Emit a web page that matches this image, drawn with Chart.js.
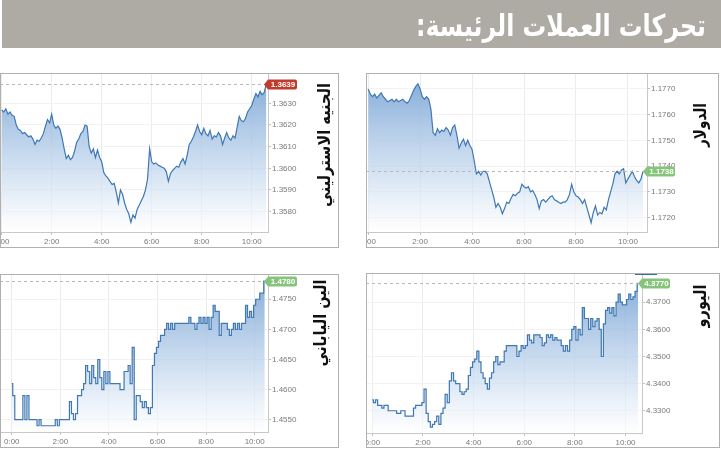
<!DOCTYPE html>
<html>
<head>
<meta charset="utf-8">
<script src="https://cdn.jsdelivr.net/npm/chart.js@4.4.1/dist/chart.umd.min.js"></script>
<style>
  body { margin:0; width:721px; height:450px; background:#fff; position:relative; overflow:hidden; }
  canvas { position:absolute; display:block; }
</style>
</head>
<body>
<canvas id="title" width="721" height="48" style="left:0;top:0"></canvas>
<canvas id="gbp-chart" width="339" height="175" style="left:0;top:73px"></canvas>
<canvas id="usd-chart" width="353" height="175" style="left:366px;top:73px"></canvas>
<canvas id="jpy-chart" width="339" height="174" style="left:0;top:274px"></canvas>
<canvas id="eur-chart" width="354" height="175" style="left:366px;top:273px"></canvas>
<script>
// quotes every 5 minutes from 0:00
var gbpValues = [
  1.3627,1.3626,1.36275,1.3625,1.3626,1.36245,1.3624,1.3620,1.3618,1.36175,
  1.3616,1.36165,1.36155,1.36145,1.3615,1.36135,1.3611,1.3613,1.36125,1.3614,
  1.3616,1.36195,1.36225,1.3621,1.3625,1.3620,1.36185,1.36195,1.3618,1.3614,
  1.3609,1.36045,1.3606,1.3604,1.3605,1.3608,1.3612,1.36135,1.3616,1.3617,
  1.3620,1.36195,1.3610,1.3607,1.3609,1.3605,1.36085,1.3605,1.3603,1.3598,
  1.35965,1.35955,1.3594,1.35925,1.3593,1.3589,1.3584,1.3590,1.3588,1.3584,
  1.3581,1.3579,1.3575,1.35785,1.3577,1.3581,1.3583,1.3585,1.3587,1.3590,
  1.3595,1.3609,1.3603,1.3602,1.36025,1.36015,1.3601,1.36005,1.3600,1.35985,
  1.3594,1.35975,1.3599,1.3600,1.3601,1.36005,1.3603,1.36045,1.3602,1.3606,
  1.3611,1.36125,1.36145,1.3617,1.3620,1.3617,1.36155,1.36185,1.3616,1.3615,
  1.36175,1.36135,1.3615,1.36145,1.36165,1.3615,1.3611,1.3614,1.36165,1.3614,
  1.3613,1.3615,1.3614,1.3619,1.3624,1.3622,1.36215,1.3623,1.3626,1.36275,
  1.3629,1.3632,1.36345,1.3633,1.36355,1.3634,1.3635,1.3639
];
var usdValues = [
  1.1770,1.1768,1.1767,1.1768,1.17665,1.17675,1.17685,1.1767,1.1766,1.1765,
  1.17655,1.1766,1.1765,1.1766,1.1765,1.17655,1.1766,1.1765,1.17645,1.17655,
  1.17675,1.17695,1.1771,1.1772,1.1770,1.1767,1.1766,1.1767,1.1766,1.1762,
  1.1753,1.1752,1.17545,1.1753,1.1754,1.17535,1.1755,1.1754,1.1752,1.1755,
  1.1756,1.1752,1.1747,1.1749,1.17505,1.1748,1.1750,1.1748,1.17465,1.1742,
  1.1737,1.1738,1.17365,1.1738,1.1738,1.1737,1.1734,1.1731,1.1728,1.1724,
  1.17255,1.1724,1.17215,1.17235,1.1726,1.17255,1.17275,1.1729,1.17285,1.17295,
  1.1730,1.1733,1.1732,1.17315,1.1732,1.1730,1.17305,1.1729,1.1727,1.17235,
  1.17265,1.1727,1.1726,1.1727,1.1728,1.17285,1.1727,1.17265,1.1726,1.17255,
  1.1726,1.1726,1.1727,1.1729,1.1733,1.1730,1.17285,1.1728,1.1727,1.17255,
  1.1727,1.1724,1.1721,1.1718,1.1722,1.17245,1.1721,1.1722,1.17215,1.1724,
  1.1723,1.1727,1.1730,1.1733,1.1737,1.1738,1.1737,1.17385,1.1739,1.17335,
  1.1735,1.17365,1.1738,1.1736,1.17345,1.17335,1.1735,1.1738
];
var jpyValues = [
  1.4610,1.4590,1.4550,1.4550,1.4550,1.4550,1.4590,1.4550,1.4590,1.4550,
  1.4550,1.4550,1.4550,1.4540,1.4550,1.4540,1.4540,1.4540,1.4540,1.4540,
  1.4540,1.4540,1.4550,1.4540,1.4550,1.4550,1.4550,1.4550,1.4550,1.4580,
  1.4560,1.4550,1.4560,1.4590,1.4590,1.4600,1.4610,1.4640,1.4630,1.4610,
  1.4640,1.4620,1.4610,1.4650,1.4620,1.4600,1.4630,1.4610,1.4630,1.4610,
  1.4610,1.4610,1.4610,1.4610,1.4600,1.4600,1.4630,1.4630,1.4640,1.4610,
  1.4670,1.4550,1.4590,1.4590,1.4580,1.4570,1.4580,1.4570,1.4560,1.4570,
  1.4640,1.4660,1.4670,1.4680,1.4690,1.4690,1.4700,1.4710,1.4700,1.4710,
  1.4700,1.4710,1.4710,1.4710,1.4710,1.4710,1.4710,1.4710,1.4720,1.4710,
  1.4710,1.4700,1.4710,1.4720,1.4710,1.4720,1.4710,1.4720,1.4700,1.4720,
  1.4740,1.4730,1.4730,1.4690,1.4710,1.4710,1.4710,1.4700,1.4690,1.4700,
  1.4710,1.4700,1.4710,1.4700,1.4710,1.4710,1.4740,1.4720,1.4730,1.4720,
  1.4740,1.4750,1.4750,1.4760,1.4760,1.4780
];
var eurValues = [
  4.3340,4.3330,4.3340,4.3320,4.3320,4.3310,4.3320,4.3320,4.3300,4.3300,
  4.3300,4.3300,4.3290,4.3290,4.3300,4.3300,4.3280,4.3280,4.3280,4.3280,
  4.3310,4.3320,4.3320,4.3320,4.3330,4.3380,4.3290,4.3260,4.3240,4.3250,
  4.3260,4.3280,4.3250,4.3290,4.3310,4.3360,4.3330,4.3410,4.3440,4.3410,
  4.3400,4.3400,4.3370,4.3360,4.3370,4.3380,4.3430,4.3460,4.3480,4.3490,
  4.3520,4.3480,4.3440,4.3420,4.3400,4.3380,4.3420,4.3440,4.3480,4.3500,
  4.3470,4.3480,4.3480,4.3520,4.3540,4.3540,4.3540,4.3540,4.3540,4.3500,
  4.3520,4.3540,4.3530,4.3540,4.3580,4.3560,4.3550,4.3580,4.3580,4.3580,
  4.3570,4.3540,4.3550,4.3580,4.3570,4.3580,4.3560,4.3570,4.3560,4.3560,
  4.3540,4.3520,4.3540,4.3520,4.3560,4.3600,4.3610,4.3560,4.3600,4.3580,
  4.3680,4.3640,4.3640,4.3600,4.3640,4.3610,4.3630,4.3640,4.3600,4.3500,
  4.3620,4.3670,4.3680,4.3660,4.3680,4.3650,4.3700,4.3730,4.3700,4.3690,
  4.3690,4.3710,4.3730,4.3710,4.3720,4.3740,4.3770
];

var xTicks = [0, 120, 240, 360, 480, 600];
var xTickLabels = ['0:00', '2:00', '4:00', '6:00', '8:00', '10:00'];
var gbpTicks = [1.3580, 1.3590, 1.3600, 1.3610, 1.3620, 1.3630];
var usdTicks = [1.1720, 1.1730, 1.1740, 1.1750, 1.1760, 1.1770];
var jpyTicks = [1.4550, 1.4600, 1.4650, 1.4700, 1.4750];
var eurTicks = [4.3300, 4.3400, 4.3500, 4.3600, 4.3700];

var titleText = 'تحركات العملات الرئيسة:';

// title bar
(function () {
  var c = document.getElementById('title').getContext('2d');
  c.fillStyle = '#aeaba4';
  c.fillRect(2, 0, 719, 48);
  c.direction = 'rtl';
  c.font = 'bold 30px "DejaVu Sans"';
  var w = c.measureText(titleText).width;
  c.save();
  c.translate(706, 36);
  c.scale(290 / w, 1);
  c.fillStyle = '#ffffff';
  c.textAlign = 'right';
  c.textBaseline = 'alphabetic';
  c.fillText(titleText, 0, 0);
  c.restore();
})();

var panelDeco = {
  id: 'panelDeco',
  afterDraw: function (chart, args, o) {
    var ctx = chart.ctx, area = chart.chartArea;
    var data = chart.data.datasets[0].data;
    var last = data[data.length - 1].y;
    var y = Math.round(chart.scales.y.getPixelForValue(last)) + 0.5;
    ctx.save();
    // dashed last-price line
    ctx.strokeStyle = '#b8b8b8';
    ctx.lineWidth = 1;
    ctx.setLineDash([3, 3]);
    ctx.beginPath();
    ctx.moveTo(area.left, y);
    ctx.lineTo(area.right, y);
    ctx.stroke();
    ctx.setLineDash([]);
    // price box
    var x0 = area.right - 4, x1 = area.right, x2 = area.right + o.boxW;
    ctx.fillStyle = o.boxColor;
    ctx.beginPath();
    ctx.moveTo(x0, y);
    ctx.lineTo(x1, y - 5);
    ctx.lineTo(x2 - 2, y - 5);
    ctx.quadraticCurveTo(x2, y - 5, x2, y - 3);
    ctx.lineTo(x2, y + 3);
    ctx.quadraticCurveTo(x2, y + 5, x2 - 2, y + 5);
    ctx.lineTo(x1, y + 5);
    ctx.closePath();
    ctx.fill();
    ctx.fillStyle = '#ffffff';
    ctx.font = 'bold 8px "Liberation Sans"';
    ctx.textAlign = 'center';
    ctx.textBaseline = 'middle';
    ctx.fillText(last.toFixed(4), (x1 + x2) / 2 + 0.5, y + 0.5);
    // small bar on top (navigator)
    if (o.topBar) {
      ctx.fillStyle = '#3b6a9c';
      ctx.fillRect(o.topBar[0], 0, o.topBar[1] - o.topBar[0], 2);
    }
    // panel border
    ctx.strokeStyle = '#b0b0b0';
    ctx.strokeRect(0.5, 0.5, chart.width - 1, chart.height - 1);
    // vertical currency name
    ctx.translate(o.labelX, o.labelY);
    ctx.rotate(-Math.PI / 2);
    ctx.direction = 'rtl';
    ctx.font = 'bold 17px "DejaVu Sans"';
    var w = ctx.measureText(o.label).width;
    ctx.scale(o.labelLen / w, 1);
    ctx.fillStyle = '#111111';
    ctx.textAlign = 'center';
    ctx.textBaseline = 'middle';
    ctx.fillText(o.label, 0, 0);
    ctx.restore();
  }
};

function fillGradient(context) {
  var chart = context.chart, area = chart.chartArea;
  if (!area) return 'rgba(140,180,220,0.5)';
  var g = chart.ctx.createLinearGradient(0, area.top, 0, area.bottom);
  g.addColorStop(0, 'rgba(112,157,210,0.9)');
  g.addColorStop(0.6, 'rgba(190,212,236,0.7)');
  g.addColorStop(1, 'rgba(255,255,255,0.6)');
  return g;
}

function makeChart(id, values, yTicks, cfg) {
  var times = values.map(function (v, i) { return i * 5; });
  var points = values.map(function (v, i) { return { x: times[i], y: v }; });
  return new Chart(document.getElementById(id), {
    type: 'line',
    data: {
      datasets: [{
        data: points,
        borderColor: '#3f78b3',
        borderWidth: 1.2,
        backgroundColor: fillGradient,
        fill: 'start',
        pointRadius: 0,
        tension: 0,
        stepped: cfg.stepped || false
      }]
    },
    plugins: [panelDeco],
    options: {
      responsive: false,
      animation: false,
      events: [],
      layout: { padding: 0 },
      plugins: {
        legend: { display: false },
        tooltip: { enabled: false },
        panelDeco: cfg.deco
      },
      scales: {
        x: {
          type: 'linear',
          min: cfg.xMin,
          max: cfg.xMax,
          afterBuildTicks: function (s) { s.ticks = xTicks.map(function (v) { return { value: v }; }); },
          afterFit: function (s) {
            s.height = cfg.xH;
            s.paddingLeft = 0; s.paddingRight = 0; s.paddingTop = 0; s.paddingBottom = 0;
          },
          ticks: {
            autoSkip: false, maxRotation: 0, padding: 2,
            color: '#7a7a7a',
            font: { size: 8, family: 'Liberation Sans' },
            callback: function (v, i) { return xTickLabels[i]; }
          },
          grid: { color: '#ececec', tickLength: 3, tickColor: '#c0c0c0' },
          border: { color: '#c8c8c8' }
        },
        y: {
          position: 'right',
          min: cfg.yMin,
          max: cfg.yMax,
          afterBuildTicks: function (s) { s.ticks = yTicks.map(function (v) { return { value: v }; }); },
          afterFit: function (s) {
            s.width = cfg.yW;
            s.paddingLeft = 0; s.paddingRight = 0; s.paddingTop = 0; s.paddingBottom = 0;
          },
          ticks: {
            padding: 1,
            color: '#7a7a7a',
            font: { size: 8, family: 'Liberation Sans' },
            callback: function (v) { return v.toFixed(4); }
          },
          grid: { color: '#f2f2f2', tickLength: 3, tickColor: '#c0c0c0' },
          border: { color: '#c8c8c8' }
        }
      }
    }
  });
}

makeChart('gbp-chart', gbpValues, gbpTicks, {
  xMin: -4, xMax: 639, yMin: 1.35706, yMax: 1.36440, yW: 71, xH: 16,
  deco: { label: 'الجنيه الاسترليني', labelX: 326, labelY: 72, labelLen: 124, boxColor: '#c23a2c', boxW: 29 }
});
makeChart('usd-chart', usdValues, usdTicks, {
  xMin: -5, xMax: 644, yMin: 1.17144, yMax: 1.17762, yW: 72, xH: 16,
  deco: { label: 'الدولار', labelX: 336, labelY: 52, labelLen: 44, boxColor: '#86c47c', boxW: 28 }
});
makeChart('jpy-chart', jpyValues, jpyTicks, {
  xMin: -29, xMax: 633, yMin: 1.45296, yMax: 1.47919, yW: 71, xH: 16, stepped: 'middle',
  deco: { label: 'الين الياباني', labelX: 322, labelY: 49, labelLen: 87, boxColor: '#86c47c', boxW: 29 }
});
makeChart('eur-chart', eurValues, eurTicks, {
  xMin: -15, xMax: 639, yMin: 4.3218, yMax: 4.38077, yW: 78, xH: 15, stepped: 'middle',
  deco: { label: 'اليورو', labelX: 336, labelY: 33, labelLen: 43, boxColor: '#86c47c', boxW: 28, topBar: [269, 291] }
});
</script>
</body>
</html>
